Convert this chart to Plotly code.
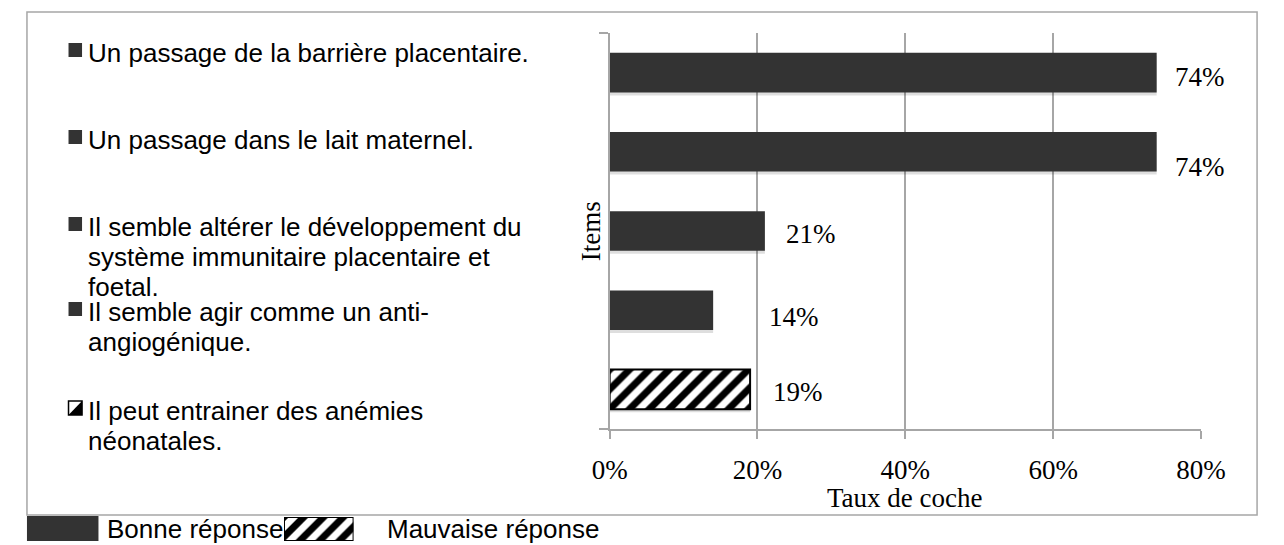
import plotly.graph_objects as go

# ---------------- data ----------------
items = [
    "Un passage de la barrière placentaire.",
    "Un passage dans le lait maternel.",
    "Il semble altérer le développement du<br>système immunitaire placentaire et<br>foetal.",
    "Il semble agir comme un anti-<br>angiogénique.",
    "Il peut entrainer des anémies<br>néonatales.",
]
rates = [0.74, 0.74, 0.21, 0.14, 0.19]
answer = ["Bonne réponse", "Bonne réponse", "Bonne réponse", "Bonne réponse", "Mauvaise réponse"]
x_ticks = [0, 0.2, 0.4, 0.6, 0.8]
x_tick_labels = ["0%", "20%", "40%", "60%", "80%"]
x_title = "Taux de coche"
y_title = "Items"
legend_names = ["Bonne réponse", "Mauvaise réponse"]

# ---------------- styles / layout helpers ----------------
PAGE_MARGIN = 8           # default body margin of the html page
W, H = 1284 - PAGE_MARGIN, 545 - PAGE_MARGIN
SERIF = "Liberation Serif, Times New Roman, serif"
SANS = "Liberation Sans, Arial, sans-serif"
DARK = "#333333"
GRAY = "#a6a6a6"

def fx(px):
    return (px - PAGE_MARGIN) / W

def fy(py):
    return 1 - (py - PAGE_MARGIN) / H

label_dx = [16, 16, 19, 54, 21]
label_dy = [-4, -15, -3, -7, -3]
legend_line_y = [[53], [140], [227, 257, 287], [312, 342], [411, 441]]
BAR_W = 0.5
CAT_PX = (429 - 33) / len(items)
SHADOW_SHIFT = 3 / CAT_PX

hatch = dict(shape="/", fgcolor="black", bgcolor="white", fgopacity=1,
             size=14, solidity=0.5)

fig = go.Figure()

idx = list(range(len(items)))
good = [i for i in idx if answer[i] == legend_names[0]]
bad = [i for i in idx if answer[i] == legend_names[1]]

# soft shadow under bars
fig.add_trace(go.Bar(
    x=rates, y=idx, orientation="h", width=BAR_W, offset=-BAR_W / 2 + SHADOW_SHIFT,
    marker=dict(color="rgba(0,0,0,0.13)", line=dict(width=0)),
    hoverinfo="skip", showlegend=False,
))
fig.add_trace(go.Bar(
    x=[rates[i] for i in good], y=good, orientation="h", width=BAR_W, offset=-BAR_W / 2,
    marker=dict(color=DARK, line=dict(width=0)), name=legend_names[0],
    hoverinfo="skip",
))
fig.add_trace(go.Bar(
    x=[rates[i] for i in bad], y=bad, orientation="h", width=BAR_W, offset=-BAR_W / 2,
    marker=dict(color="white", line=dict(color="black", width=2), pattern=hatch),
    name=legend_names[1], hoverinfo="skip",
))

# legend swatch for "Mauvaise réponse" (hatched) on auxiliary axes
fig.add_trace(go.Bar(
    x=[1], y=[0], orientation="h", width=1, xaxis="x2", yaxis="y2",
    marker=dict(color="white", line=dict(color="black", width=2), pattern=hatch),
    hoverinfo="skip", showlegend=False,
))

annotations = []
# data labels
for i in idx:
    annotations.append(dict(
        x=rates[i], y=i, xref="x", yref="y", text=f"{round(rates[i]*100)}%",
        showarrow=False, xanchor="left", yanchor="middle",
        xshift=label_dx[i], yshift=label_dy[i],
        font=dict(family=SERIF, size=27, color="black"),
    ))

# axis titles
annotations.append(dict(x=fx(918), y=fy(498), xref="paper", yref="paper", text=x_title,
                        showarrow=False, xanchor="center", yanchor="middle",
                        font=dict(family=SERIF, size=27, color="black")))
annotations.append(dict(x=fx(593), y=fy(231), xref="paper", yref="paper", text=y_title,
                        showarrow=False, xanchor="center", yanchor="middle", textangle=-90,
                        font=dict(family=SERIF, size=27, color="black")))

shapes = []
# left legend (one entry per item)
for i in idx:
    lines = items[i].split("<br>")
    for j, line in enumerate(lines):
        annotations.append(dict(x=fx(70), y=fy(legend_line_y[i][j]), xref="paper", yref="paper",
                                text=line, showarrow=False, xanchor="left", yanchor="middle",
                                font=dict(family=SANS, size=26, color="black")))
    cy = legend_line_y[i][0] - 3
    if answer[i] == legend_names[0]:
        shapes.append(dict(type="rect", xref="paper", yref="paper",
                           x0=fx(52), x1=fx(66), y0=fy(cy + 7), y1=fy(cy - 7),
                           fillcolor=DARK, line=dict(width=0)))
    else:
        shapes.append(dict(type="rect", xref="paper", yref="paper",
                           x0=fx(52), x1=fx(66), y0=fy(cy + 7), y1=fy(cy - 7),
                           fillcolor="white", line=dict(color="black", width=1.5)))
        shapes.append(dict(type="path", xref="paper", yref="paper",
                           path=f"M {fx(66)},{fy(cy-7)} L {fx(66)},{fy(cy+7)} L {fx(52)},{fy(cy+7)} Z",
                           fillcolor="black", line=dict(width=0)))

# bottom legend
shapes.append(dict(type="rect", xref="paper", yref="paper",
                   x0=fx(9), x1=fx(83), y0=fy(541), y1=fy(516),
                   fillcolor=DARK, line=dict(width=0)))
annotations.append(dict(x=fx(90), y=fy(529), xref="paper", yref="paper", text=legend_names[0],
                        showarrow=False, xanchor="left", yanchor="middle",
                        font=dict(family=SANS, size=26, color="black")))
annotations.append(dict(x=fx(380), y=fy(529), xref="paper", yref="paper", text=legend_names[1],
                        showarrow=False, xanchor="left", yanchor="middle",
                        font=dict(family=SANS, size=26, color="black")))

# outer frame
shapes.append(dict(type="rect", xref="paper", yref="paper",
                   x0=fx(9), x1=fx(1282), y0=fy(515), y1=fy(12),
                   fillcolor="rgba(0,0,0,0)", line=dict(color=GRAY, width=1.5), layer="below"))

fig.update_layout(
    width=W, height=H,
    margin=dict(l=0, r=0, t=0, b=0),
    paper_bgcolor="white", plot_bgcolor="white",
    showlegend=False, barmode="overlay",
    xaxis=dict(domain=[fx(612), fx(1224)], range=[0, 0.8], tickvals=x_ticks,
               ticktext=x_tick_labels, showgrid=True, gridcolor=GRAY, gridwidth=1.5,
               showline=True, linecolor=GRAY, linewidth=1.5, ticks="outside", ticklen=8,
               tickcolor=GRAY, tickwidth=1.5, zeroline=False, ticklabelstandoff=8,
               tickfont=dict(family=SERIF, size=27, color="black")),
    yaxis=dict(domain=[fy(429), fy(33)], range=[len(items) - 0.5, -0.5],
               tickvals=[-0.5, len(items) - 0.5], showticklabels=False,
               ticks="outside", ticklen=9, tickcolor=GRAY, tickwidth=1.5,
               showgrid=False, showline=True, linecolor=GRAY, linewidth=1.5, zeroline=False),
    xaxis2=dict(domain=[fx(275), fx(347)], range=[0, 1], visible=False, anchor="y2"),
    yaxis2=dict(domain=[fy(541), fy(517)], range=[-0.5, 0.5], visible=False, anchor="x2"),
    annotations=annotations,
    shapes=shapes,
)

fig.write_html("out.html")
